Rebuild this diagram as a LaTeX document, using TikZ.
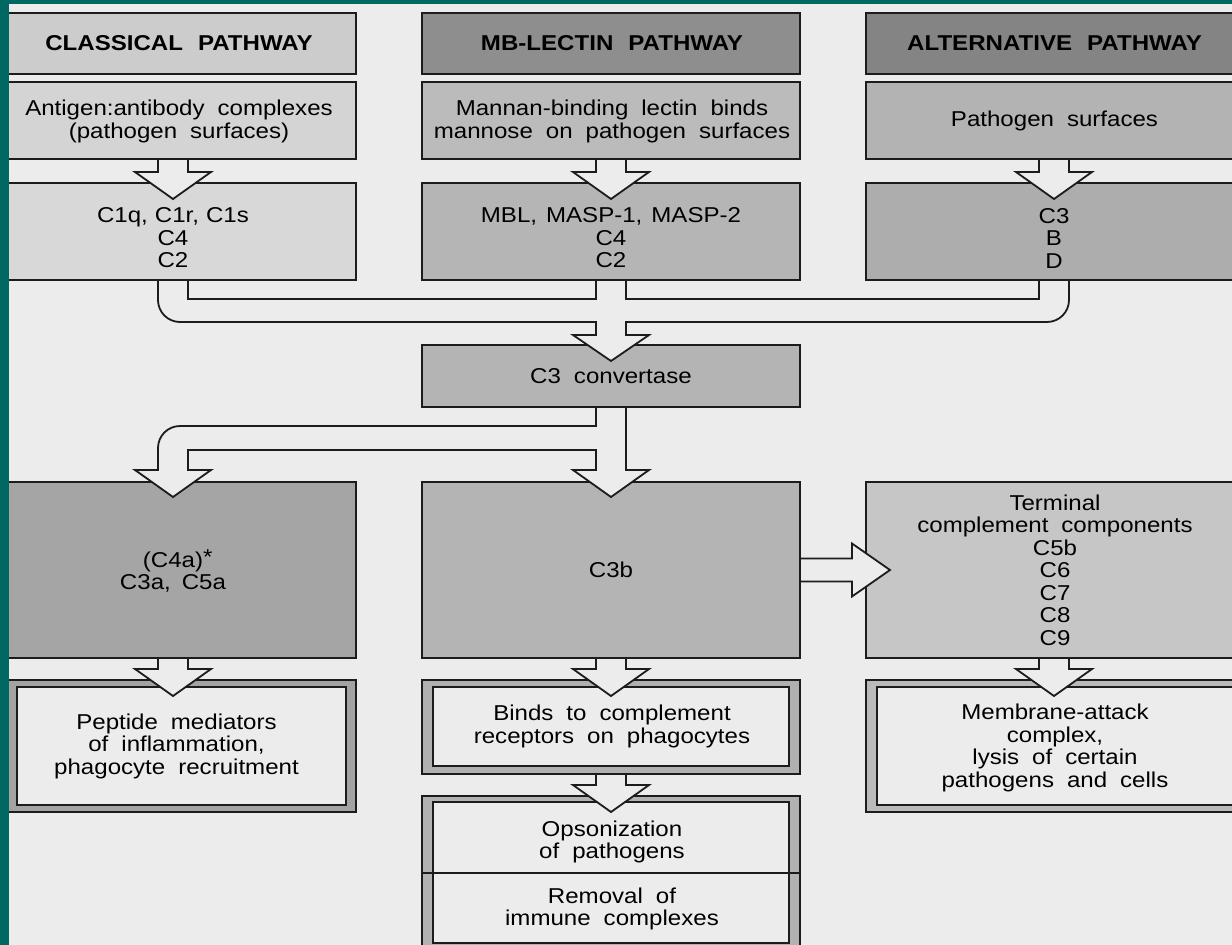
\documentclass[tikz,border=0pt]{standalone}
\usepackage{fontspec}
\usetikzlibrary{calc,fit}
\newfontfamily\df[FakeStretch=1.12]{Liberation Sans}
\definecolor{bg}{HTML}{ECECEC}
\definecolor{tealbar}{RGB}{0,104,98}
\definecolor{ink}{HTML}{1C1C1C}
\definecolor{hdL}{HTML}{CCCCCC}
\definecolor{hdM}{HTML}{8E8E8E}
\definecolor{hdR}{HTML}{848484}
\definecolor{aLc}{HTML}{D4D4D4}
\definecolor{aMc}{HTML}{BBBBBB}
\definecolor{aRc}{HTML}{B3B3B3}
\definecolor{bLc}{HTML}{D8D8D8}
\definecolor{bMc}{HTML}{B5B5B5}
\definecolor{bRc}{HTML}{ADADAD}
\definecolor{cvc}{HTML}{B4B4B4}
\definecolor{dLc}{HTML}{A5A5A5}
\definecolor{dMc}{HTML}{B4B4B4}
\definecolor{dRc}{HTML}{C6C6C6}
\definecolor{eLc}{HTML}{A3A3A3}
\definecolor{eMc}{HTML}{B0B0B0}
\definecolor{eRc}{HTML}{BABABA}
\definecolor{fMc}{HTML}{B2B2B2}
\newcommand\wsp{\spaceskip=13pt\relax}
\newcommand\hsp{\spaceskip=15pt\relax}
\tikzset{
 bx/.style={draw=ink, line width=1.8pt, inner sep=0pt, outer sep=0pt, rectangle},
 arr/.style={draw=ink, fill=bg, line width=1.8pt, line join=miter},
 txt/.style={font=\df\fontsize{21.5}{22.5}\selectfont, execute at begin node=\wsp, align=center, inner sep=0pt, text=black},
 hdr/.style={font=\df\bfseries\fontsize{21.5}{22.5}\selectfont, execute at begin node=\hsp, align=center, inner sep=0pt, text=black},
}
\newcommand\vblock[2]{%
 \filldraw[arr] let \p1=(#1.south), \p2=(#2.north) in
  (\x1-15pt,\y1) -- (\x1-15pt,\y2+11pt) -- (\x1-38pt,\y2+11pt) -- (\x1,\y2-16pt)
  -- (\x1+38pt,\y2+11pt) -- (\x1+15pt,\y2+11pt) -- (\x1+15pt,\y1) -- cycle;}
\begin{document}
\begin{tikzpicture}[x=1pt,y=-1pt]
\useasboundingbox (0,0) rectangle (1232,945);
\clip (0,0) rectangle (1232,945);
\fill[bg] (0,0) rectangle (1232,945);
% boxes
\node[bx, fill=hdL, fit={(-10,13) (356,74)}] (hL) {};
\node[bx, fill=hdM, fit={(422,13) (800,74)}] (hM) {};
\node[bx, fill=hdR, fit={(866,13) (1242,74)}] (hR) {};
\node[bx, fill=aLc, fit={(-10,82) (356,159)}] (aL) {};
\node[bx, fill=aMc, fit={(422,82) (800,159)}] (aM) {};
\node[bx, fill=aRc, fit={(866,82) (1242,159)}] (aR) {};
\node[bx, fill=bLc, fit={(-10,183) (356,280)}] (bL) {};
\node[bx, fill=bMc, fit={(422,183) (800,280)}] (bM) {};
\node[bx, fill=bRc, fit={(866,183) (1242,280)}] (bR) {};
\node[bx, fill=cvc, fit={(422,345) (800,407)}] (conv) {};
\node[bx, fill=dLc, fit={(-10,482) (356,658)}] (dL) {};
\node[bx, fill=dMc, fit={(422,482) (800,658)}] (dM) {};
\node[bx, fill=dRc, fit={(866,482) (1242,658)}] (dR) {};
\node[bx, fill=eLc, fit={(-10,680) (356,812)}] (eL) {};
\node[bx, fill=bg, fit={(17,687) (346,805)}] (eLi) {};
\node[bx, fill=eMc, fit={(422,680) (800,774)}] (eM) {};
\node[bx, fill=bg, fit={(433,687) (789,766)}] (eMi) {};
\node[bx, fill=eRc, fit={(866,680) (1242,812)}] (eR) {};
\node[bx, fill=bg, fit={(877,687) (1237,805)}] (eRi) {};
\node[bx, fill=fMc, fit={(422,796) (800,955)}] (fM) {};
\node[bx, fill=bg, fit={(433,802) (789,943)}] (fMi) {};
\coordinate (dv) at (0,873);
\draw[ink, line width=1.8pt] (fM.west |- dv) -- (fM.east |- dv);
% block arrows
\vblock{aL}{bL}
\vblock{aM}{bM}
\vblock{aR}{bR}
\vblock{dL}{eL}
\vblock{dM}{eM}
\vblock{dR}{eR}
\vblock{eM}{fM}
% merge into C3 convertase
\filldraw[arr] let \p1=(bL.south), \p2=(bM.south), \p3=(bR.south), \p4=(conv.north) in
 (\x1-15pt,\y1) -- (\x1-15pt,\y1-20pt) arc[start angle=180,end angle=270,radius=22pt]
 -- (\x2-15pt,\y1-42pt) -- (\x2-15pt,\y4+10pt) -- (\x2-38pt,\y4+10pt) -- (\x2,\y4-16pt)
 -- (\x2+38pt,\y4+10pt) -- (\x2+15pt,\y4+10pt) -- (\x2+15pt,\y1-42pt)
 -- (\x3+15pt-22pt,\y1-42pt) arc[start angle=270,end angle=360,radius=22pt]
 -- (\x3+15pt,\y1) -- (\x3-15pt,\y1) -- (\x3-15pt,\y1-19pt) -- (\x2+15pt,\y1-19pt)
 -- (\x2+15pt,\y1) -- (\x2-15pt,\y1) -- (\x2-15pt,\y1-19pt) -- (\x1+15pt,\y1-19pt)
 -- (\x1+15pt,\y1) -- cycle;
% split from C3 convertase
\filldraw[arr] let \p1=(conv.south), \p2=(dL.north), \p3=(dM.north) in
 (\x1-15pt,\y1) -- (\x1-15pt,\y1-19pt) -- (\x2+7pt,\y1-19pt) arc[start angle=90,end angle=180,radius=22pt]
 -- (\x2-15pt,\y2+12pt) -- (\x2-38pt,\y2+12pt) -- (\x2,\y2-15pt) -- (\x2+38pt,\y2+12pt)
 -- (\x2+15pt,\y2+12pt) -- (\x2+15pt,\y1-43pt) -- (\x3-15pt,\y1-43pt) -- (\x3-15pt,\y3+12pt)
 -- (\x3-38pt,\y3+12pt) -- (\x3,\y3-15pt) -- (\x3+38pt,\y3+12pt) -- (\x3+15pt,\y3+12pt)
 -- (\x1+15pt,\y1) -- cycle;
% C3b to terminal components
\filldraw[arr] let \p1=(dM.east), \p2=(dR.west) in
 (\x1,\y1+11.5pt) -- (\x2-14pt,\y1+11.5pt) -- (\x2-14pt,\y1+26.5pt) -- (\x2+24pt,\y1)
 -- (\x2-14pt,\y1-26.5pt) -- (\x2-14pt,\y1-11.5pt) -- (\x1,\y1-11.5pt) -- cycle;
% texts
\node[hdr] (hLt) at ($(hL.center)+(6,0)$) {CLASSICAL PATHWAY};
\node[hdr] (hMt) at ($(hM.center)+(1,0)$) {MB-LECTIN PATHWAY};
\node[hdr] (hRt) at ($(hR.center)+(0.5,0)$) {ALTERNATIVE PATHWAY};
\node[txt] (aLt) at ($(aL.center)+(6,1)$) {Antigen:antibody complexes\\(pathogen surfaces)};
\node[txt] (aMt) at ($(aM.center)+(1,1)$) {Mannan-binding lectin binds\\mannose on pathogen surfaces};
\node[txt] (aRt) at ($(aR.center)+(0.5,0)$) {Pathogen surfaces};
\node[txt] (bLt) at ($(bL.center)+(0,6.5)$) {C1q,\hspace{7pt}C1r,\hspace{7pt}C1s\\C4\\C2};
\node[txt] (bMt) at ($(bM.center)+(0,6.5)$) {MBL,\hspace{9pt}MASP-1,\hspace{9pt}MASP-2\\C4\\C2};
\node[txt] (bRt) at ($(bR.center)+(0,6.5)$) {C3\\B\\D};
\node[txt] (convt) at (conv.center) {C3 convertase};
\node[txt] (dLt) at ($(dL.center)+(0,1)$) {(C4a)\rlap{\raisebox{3pt}{*}}\\C3a,\hspace{11pt}C5a};
\node[txt] (dMt) at (dM.center) {C3b};
\node[txt] (dRt) at ($(dR.center)+(1,0)$) {Terminal\\complement components\\C5b\\C6\\C7\\C8\\C9};
\node[txt] (eLt) at ($(eLi.center)+(-5,0)$) {Peptide mediators\\of inflammation,\\phagocyte recruitment};
\node[txt] (eMt) at ($(eMi.center)+(1,0)$) {Binds to complement\\receptors on phagocytes};
\node[txt] (eRt) at ($(eR.center)+(1,2)$) {Membrane-attack\\complex,\\lysis of certain\\pathogens and cells};
\node[txt] (fMt1) at (612,842) {Opsonization\\of pathogens};
\node[txt] (fMt2) at (612,909) {Removal of\\immune complexes};
% frame
\fill[tealbar] (0,0) rectangle (9,945);
\fill[tealbar] (0,0) rectangle (1232,4);
\end{tikzpicture}
\end{document}
